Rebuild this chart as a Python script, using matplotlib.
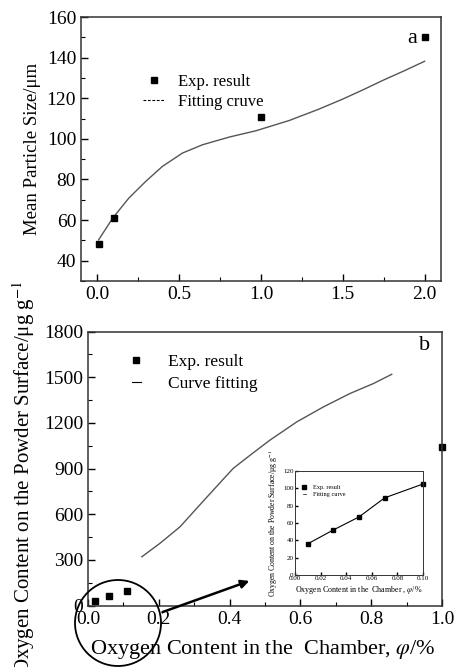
import matplotlib
matplotlib.use('Agg')
import matplotlib.pyplot as plt
from matplotlib.lines import Line2D
from matplotlib.patches import Ellipse
from matplotlib.ticker import MultipleLocator, FormatStrFormatter

plt.rcParams['font.family'] = ['Liberation Serif', 'DejaVu Serif']
plt.rcParams['mathtext.fontset'] = 'stix'

# --- panel a: mean particle size ---
size_x = [0.01, 0.1, 1.0, 2.0]
size_y = [48, 61, 111, 150]
size_fit_x = [0.008, 0.094, 0.192, 0.295, 0.397, 0.52, 0.643, 0.807, 0.97,
              1.175, 1.236, 1.35, 1.5, 1.625, 1.75, 1.875, 2.0]
size_fit_y = [50.3, 61.0, 70.8, 79.0, 86.4, 93.0, 97.1, 100.9, 104.0,
              109.1, 111.0, 114.5, 119.6, 124.2, 129.0, 133.5, 138.2]

# --- panel b: surface oxygen ---
oxy_x = [0.02, 0.06, 0.11, 1.0]
oxy_y = [30, 63, 98, 1040]
oxy_fit_x = [0.152, 0.203, 0.26, 0.307, 0.354, 0.41, 0.458, 0.514, 0.59,
             0.665, 0.74, 0.806, 0.858]
oxy_fit_y = [321, 409, 518, 639, 759, 901, 988, 1087, 1207,
             1305, 1393, 1458, 1519]

# --- inset ---
ins_x = [0.01, 0.03, 0.05, 0.07, 0.10]
ins_y = [36, 52, 67, 89, 105]

W, H = 461, 667
fig = plt.figure(figsize=(W / 100, H / 100), dpi=100)

spine_col = '#333333'
curve_col = '#555555'


def style_axes(ax, size=14, major=5, minor=3):
    for s in ax.spines.values():
        s.set_color(spine_col)
        s.set_linewidth(1.1)
    ax.tick_params(which='both', direction='in', labelsize=size, colors='black')
    ax.tick_params(which='major', length=major, width=1)
    ax.tick_params(which='minor', length=minor, width=0.8)


# panel a
ax1 = fig.add_axes([81 / W, 1 - 281 / H, 360 / W, 264 / H])
ax1.plot(size_fit_x, size_fit_y, color=curve_col, lw=1)
ax1.plot(size_x, size_y, 's', color='black', ms=4.2, clip_on=False)
ax1.set_xlim(-0.1, 2.1)
ax1.set_ylim(30, 160)
ax1.xaxis.set_major_locator(MultipleLocator(0.5))
ax1.xaxis.set_minor_locator(MultipleLocator(0.25))
ax1.yaxis.set_minor_locator(MultipleLocator(10))
ax1.set_yticks([40, 60, 80, 100, 120, 140, 160])
style_axes(ax1)
ax1.set_ylabel('Mean Particle Size/μm', fontsize=13.5)
ax1.yaxis.set_label_coords(-0.11, 0.5)
ax1.text(0.919, 0.92, 'a', transform=ax1.transAxes, fontsize=16, ha='center', va='center')
h1 = [Line2D([], [], marker='s', ls='none', color='black', ms=4.2),
      Line2D([], [], ls=(0, (2.5, 1.5)), color='black', lw=0.8)]
ax1.legend(h1, ['Exp. result', 'Fitting cruve'], loc='center left',
           bbox_to_anchor=(0.13, 0.715), frameon=False, fontsize=12,
           handlelength=1.3, handletextpad=0.8, labelspacing=0.25)

# panel b
ax2 = fig.add_axes([88 / W, 1 - 605.7 / H, 354 / W, 274.2 / H])
ax2.plot(oxy_fit_x, oxy_fit_y, color=curve_col, lw=1)
ax2.plot(oxy_x, oxy_y, 's', color='black', ms=4.8, clip_on=False)
ax2.set_xlim(0, 1.0)
ax2.set_ylim(0, 1800)
ax2.xaxis.set_major_locator(MultipleLocator(0.2))
ax2.xaxis.set_minor_locator(MultipleLocator(0.1))
ax2.yaxis.set_major_locator(MultipleLocator(300))
ax2.yaxis.set_minor_locator(MultipleLocator(150))
style_axes(ax2)
ax2.set_ylabel('Oxygen Content on the Powder Surface/μg g$^{-1}$', fontsize=15)
ax2.yaxis.set_label_coords(-0.145, 0.47)
ax2.set_xlabel(r'Oxygen Content in the  Chamber, $\varphi$/%', fontsize=16)
ax2.xaxis.set_label_coords(0.494, -0.118)
ax2.text(0.965, 0.95, 'b', transform=ax2.transAxes, fontsize=16, ha='right', va='center')
h2 = [Line2D([], [], marker='s', ls='none', color='black', ms=5),
      Line2D([], [], ls='-', color='black', lw=0.8)]
ax2.legend(h2, ['Exp. result', 'Curve fitting'], loc='center left',
           bbox_to_anchor=(0.08, 0.85), frameon=False, fontsize=12.5,
           handlelength=0.5, handletextpad=1.6, labelspacing=0.35)

# inset
ax3 = fig.add_axes([295 / W, 1 - 575 / H, 128 / W, 104 / H])
ax3.plot(ins_x, ins_y, '-s', color='black', lw=0.8, ms=2.2, clip_on=False)
ax3.set_xlim(0, 0.10)
ax3.set_ylim(0, 120)
ax3.xaxis.set_major_locator(MultipleLocator(0.02))
ax3.xaxis.set_major_formatter(FormatStrFormatter('%.2f'))
ax3.yaxis.set_major_locator(MultipleLocator(20))
style_axes(ax3, size=5, major=2.5, minor=1.5)
for s in ax3.spines.values():
    s.set_linewidth(0.7)
ax3.tick_params(pad=1)
ax3.set_ylabel('Oxygen Content on the Powder Surface/μg g$^{-1}$', fontsize=5.6, labelpad=2)
ax3.set_xlabel(r'Oxygen Content in the  Chamber , $\varphi$/%', fontsize=5.8, labelpad=2)
h3 = [Line2D([], [], marker='s', ls='none', color='black', ms=2.2),
      Line2D([], [], ls='-', color='black', lw=0.5)]
ax3.legend(h3, ['Exp. result', 'Fitting curve'], loc='center left',
           bbox_to_anchor=(0.02, 0.81), frameon=False, fontsize=4.5,
           handlelength=0.4, handletextpad=1.2, labelspacing=0.2)

# zoom circle and arrow
circ = Ellipse((118 / W, 1 - 623 / H), 86 / W, 86 / H, transform=fig.transFigure,
               fill=False, edgecolor='black', lw=1.3)
fig.patches.append(circ)
ax2.annotate('', xy=(252, H - 580), xycoords='figure pixels',
             xytext=(160, H - 613), textcoords='figure pixels',
             arrowprops=dict(arrowstyle='-|>', color='black', lw=1.8, mutation_scale=12))

fig.savefig('out.png', dpi=100)
